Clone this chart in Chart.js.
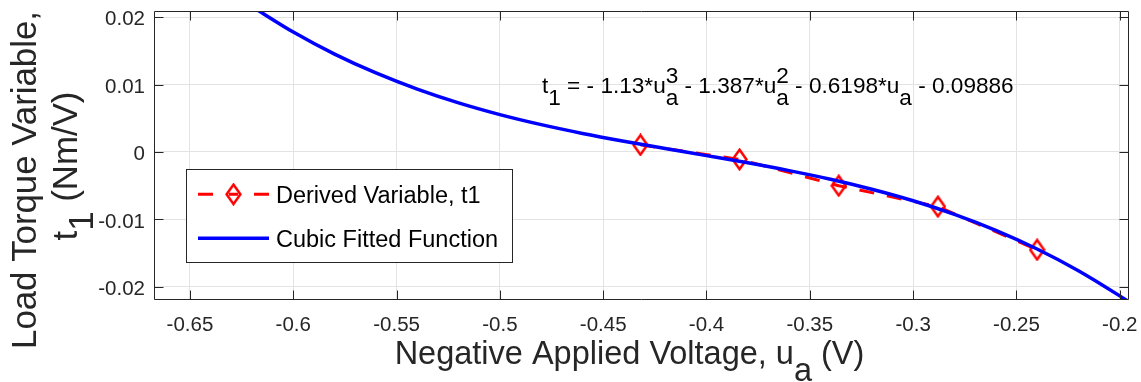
<!DOCTYPE html>
<html><head><meta charset="utf-8">
<script src="https://cdn.jsdelivr.net/npm/chart.js@4.4.1/dist/chart.umd.min.js"></script>
<style>html,body{margin:0;padding:0;background:#fff;}#wrap{width:1141px;height:382px;}</style>
</head><body><div id="wrap"><canvas id="c" width="1141" height="382"></canvas></div>
<script>
const xTicks = [-0.65,-0.6,-0.55,-0.5,-0.45,-0.4,-0.35,-0.3,-0.25,-0.2];
const xTickLabels = ['-0.65','-0.6','-0.55','-0.5','-0.45','-0.4','-0.35','-0.3','-0.25','-0.2'];
const yTicks = [-0.02,-0.01,0,0.01,0.02];
const yTickLabels = ['-0.02','-0.01','0','0.01','0.02'];
const derivedU = [-0.432,-0.384,-0.336,-0.288,-0.240];
const derivedT = [0.00105,-0.0011,-0.0050,-0.0081,-0.0145];
const fitU = [-0.62,-0.60,-0.58,-0.56,-0.54,-0.52,-0.50,-0.48,-0.46,-0.44,-0.42,-0.40,-0.38,-0.36,-0.34,-0.32,-0.30,-0.28,-0.26,-0.24,-0.22,-0.20,-0.196];
const fitT = [0.02156,0.01778,0.01451,0.01171,0.00932,0.00728,0.00554,0.00405,0.00275,0.00159,0.00051,-0.00054,-0.00161,-0.00277,-0.00405,-0.00553,-0.00724,-0.00925,-0.01161,-0.01438,-0.01760,-0.02134,-0.02215];
const seriesNames = ['Derived Variable, t1','Cubic Fitted Function'];

const FONT = '"Liberation Sans", Arial, Helvetica, sans-serif';
const INK = '#262626';

function diamond(){
  const c = document.createElement('canvas');
  c.width = 17; c.height = 23;
  const g = c.getContext('2d');
  g.strokeStyle = '#ff0000'; g.lineWidth = 2.5; g.lineJoin = 'miter';
  g.beginPath(); g.moveTo(8.5,1.8); g.lineTo(15.4,11.5); g.lineTo(8.5,21.2); g.lineTo(1.6,11.5); g.closePath(); g.stroke();
  return c;
}
const marker = diamond();

function runsWidth(ctx, runs){
  let w = 0;
  for (const r of runs){
    if (r.stack) w += Math.max(...r.stack.map(s=>ctx.measureText(s.t).width));
    else w += ctx.measureText(r.t).width;
  }
  return w;
}
function drawRuns(ctx, runs, x, y){
  let cx = x;
  for (const r of runs){
    if (r.stack){
      let mw = 0;
      for (const s of r.stack){ ctx.fillText(s.t, cx, y + s.dy); mw = Math.max(mw, ctx.measureText(s.t).width); }
      cx += mw;
    } else {
      ctx.fillText(r.t, cx, y + (r.dy||0));
      cx += ctx.measureText(r.t).width;
    }
  }
}

const decor = {
  id: 'decor',
  afterDatasetsDraw(chart){
    const ctx = chart.ctx, a = chart.chartArea;
    const xs = chart.scales.x, ys = chart.scales.y;
    ctx.save();
    ctx.strokeStyle = INK; ctx.lineWidth = 1;
    const L = a.left + 0.5, R = a.right + 0.5, T = a.top + 0.5, B = a.bottom + 0.5;
    ctx.beginPath(); ctx.rect(L, T, R - L, B - T); ctx.stroke();
    const tl = 9;
    ctx.beginPath();
    for (const v of xTicks){
      const px = Math.round(xs.getPixelForValue(v)) + 0.5;
      ctx.moveTo(px, B); ctx.lineTo(px, B - tl);
      ctx.moveTo(px, T); ctx.lineTo(px, T + tl);
    }
    for (const v of yTicks){
      const py = Math.round(ys.getPixelForValue(v)) + 0.5;
      ctx.moveTo(L, py); ctx.lineTo(L + tl, py);
      ctx.moveTo(R, py); ctx.lineTo(R - tl, py);
    }
    ctx.stroke();

    // legend
    const lx0 = 186.5, ly0 = 169.5, lx1 = 512.5, ly1 = 262.5;
    ctx.fillStyle = '#fff';
    ctx.fillRect(lx0, ly0, lx1 - lx0, ly1 - ly0);
    ctx.strokeStyle = INK; ctx.lineWidth = 1;
    ctx.strokeRect(lx0, ly0, lx1 - lx0, ly1 - ly0);
    const ds = chart.data.datasets;
    const rows = [194.3, 238.3];
    ctx.strokeStyle = '#ff0000'; ctx.lineWidth = 3;
    ctx.beginPath();
    ctx.moveTo(198, rows[0]); ctx.lineTo(213, rows[0]);
    ctx.moveTo(229, rows[0]); ctx.lineTo(238, rows[0]);
    ctx.moveTo(254, rows[0]); ctx.lineTo(269, rows[0]);
    ctx.stroke();
    ctx.drawImage(marker, 233.5 - marker.width/2, rows[0] - marker.height/2);
    ctx.strokeStyle = '#0000ff'; ctx.lineWidth = 3.5;
    ctx.beginPath(); ctx.moveTo(198, rows[1]); ctx.lineTo(269, rows[1]); ctx.stroke();
    ctx.fillStyle = '#000';
    ctx.font = '23.5px ' + FONT;
    ctx.textBaseline = 'alphabetic'; ctx.textAlign = 'left';
    ctx.fillText(ds[1].label, 276, rows[0] + 8.3);
    ctx.fillText(ds[0].label, 276, rows[1] + 8.3);

    // equation
    ctx.fillStyle = '#000';
    ctx.font = '22.6px ' + FONT;
    const sb = 12.5, sp = -9.8;
    const eq = [
      {t:'t'},{t:'1',dy:sb},{t:' = - 1.13*u'},{stack:[{t:'a',dy:sb},{t:'3',dy:sp}]},
      {t:' - 1.387*u'},{stack:[{t:'a',dy:sb},{t:'2',dy:sp}]},
      {t:' - 0.6198*u'},{t:'a',dy:sb},{t:' - 0.09886'}
    ];
    drawRuns(ctx, eq, 542, 92.7);

    // x title
    ctx.fillStyle = INK;
    ctx.font = '32.5px ' + FONT;
    const xt = [{t:'Negative Applied Voltage, u'},{t:'a',dy:17},{t:' (V)'}];
    const xw = runsWidth(ctx, xt);
    drawRuns(ctx, xt, 629.5 - xw/2, 364.3);

    // y title (rotated)
    ctx.font = '34.8px ' + FONT;
    ctx.save();
    ctx.rotate(-Math.PI/2);
    const y1 = [{t:'Load Torque Variable,'}];
    const w1 = runsWidth(ctx, y1);
    drawRuns(ctx, y1, -180 - w1/2, 36);
    const y2 = [{t:'t'},{t:'1',dy:16},{t:' (Nm/V)'}];
    const w2 = runsWidth(ctx, y2);
    drawRuns(ctx, y2, -166 - w2/2, 77);
    ctx.restore();

    ctx.restore();
  }
};

new Chart(document.getElementById('c'), {
  type: 'scatter',
  data: {
    datasets: [
      {
        label: seriesNames[1],
        data: fitU.map((u,i)=>({x:u, y:fitT[i]})),
        showLine: true,
        borderColor: '#0000ff',
        borderWidth: 3.5,
        pointRadius: 0,
        cubicInterpolationMode: 'monotone',
        order: 1
      },
      {
        label: seriesNames[0],
        data: derivedU.map((u,i)=>({x:u, y:derivedT[i]})),
        showLine: true,
        borderColor: '#ff0000',
        borderWidth: 3,
        borderDash: [15,13],
        pointStyle: marker,
        pointRadius: 8,
        order: 2
      }
    ]
  },
  options: {
    responsive: false,
    animation: false,
    devicePixelRatio: 1,
    layout: { padding: { left: 0, right: 13, top: 7, bottom: 0 } },
    plugins: { legend: { display: false }, tooltip: { enabled: false } },
    scales: {
      x: {
        type: 'linear',
        min: -0.6674, max: -0.196,
        afterBuildTicks: s => { s.ticks = xTicks.map(v=>({value:v})); },
        afterFit: s => { s.height = 83; s.paddingLeft = 0; s.paddingRight = 0; },
        grid: { color: '#e3e3e3', lineWidth: 1, drawTicks: false },
        border: { display: false },
        ticks: {
          padding: 14,
          color: INK,
          font: { family: FONT, size: 20.5 },
          maxRotation: 0,
          autoSkip: false,
          callback: (v, i) => xTickLabels[i]
        }
      },
      y: {
        type: 'linear',
        min: -0.0218, max: 0.0209,
        afterBuildTicks: s => { s.ticks = yTicks.map(v=>({value:v})); },
        afterFit: s => { s.width = 154; s.paddingTop = 0; s.paddingBottom = 0; },
        grid: { color: '#e3e3e3', lineWidth: 1, drawTicks: false },
        border: { display: false },
        ticks: {
          padding: 9,
          labelOffset: 2.5,
          color: INK,
          font: { family: FONT, size: 20.5 },
          autoSkip: false,
          callback: (v, i) => yTickLabels[i]
        }
      }
    }
  },
  plugins: [decor]
});
</script>
</body></html>
